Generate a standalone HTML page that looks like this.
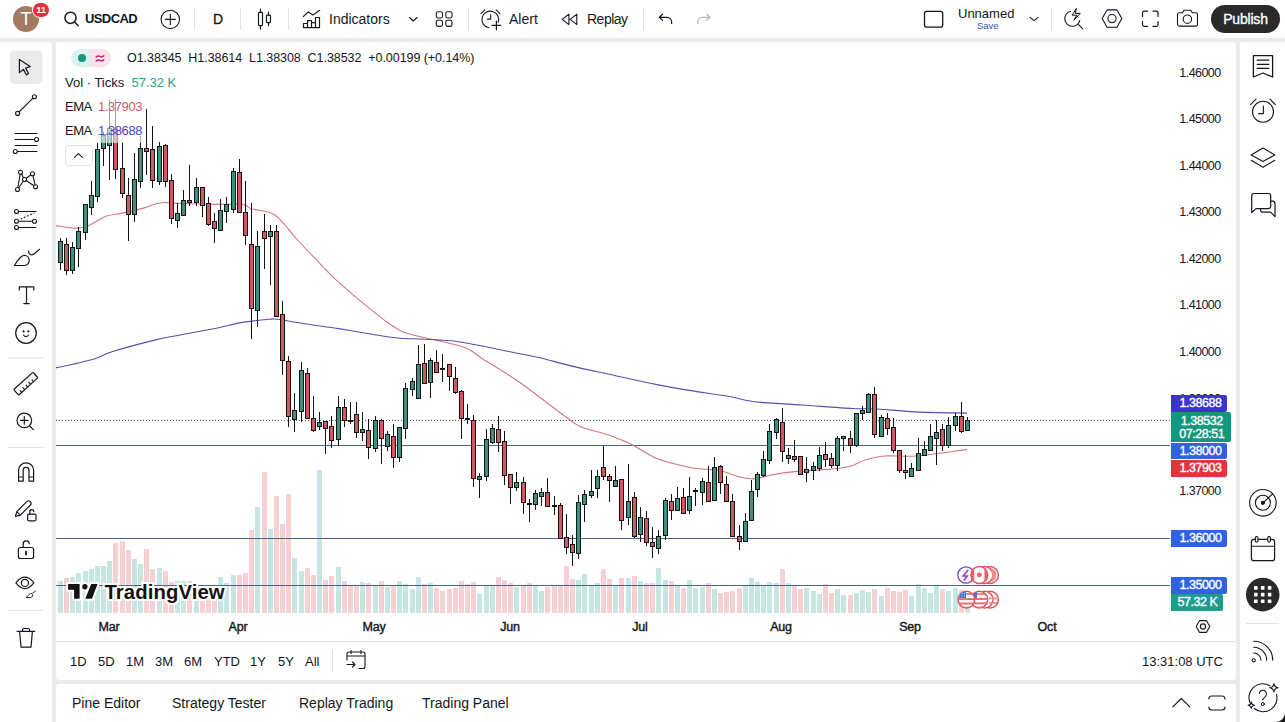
<!DOCTYPE html>
<html><head><meta charset="utf-8">
<style>
*{margin:0;padding:0;box-sizing:border-box}
html,body{width:1285px;height:722px;overflow:hidden}
body{background:#ebebeb;font-family:"Liberation Sans",sans-serif;color:#131722;position:relative}
.panel{position:absolute;background:#fff}
.t{position:absolute;white-space:nowrap;line-height:1}
svg{position:absolute;overflow:visible}
.ic{fill:none;stroke:#131722;stroke-width:1.1;stroke-linecap:round;stroke-linejoin:round}
.sep{position:absolute;background:#e0e0e0}
.pl{position:absolute;left:1171px;width:56px;height:16.4px;border-radius:0 2px 2px 0;color:#fff;font-size:12.5px;line-height:17px;text-align:center;padding-left:3px;-webkit-text-stroke:0.35px #fff;letter-spacing:-0.45px}
.pa{position:absolute;left:1171px;width:58px;text-align:center;font-size:12.5px;line-height:14px;letter-spacing:-0.55px;color:#131722}
.ta{position:absolute;top:620px;font-size:12.5px;line-height:14px;-webkit-text-stroke:0.4px #131722;letter-spacing:-0.2px;transform:translateX(-50%)}
</style></head><body>
<!-- panels -->
<div class="panel" style="left:0;top:0;width:1285px;height:38px"></div>
<div class="panel" style="left:0;top:42px;width:52px;height:680px;border-radius:0 3px 0 0"></div>
<div class="panel" style="left:56px;top:42px;width:1180px;height:638px;border-radius:3px"></div>
<div class="panel" style="left:1240px;top:42px;width:45px;height:680px;border-radius:3px 0 0 0"></div>
<div class="panel" style="left:56px;top:684px;width:1180px;height:40px;border-radius:3px 3px 0 0"></div>

<!-- ===== TOP BAR ===== -->
<div class="t" style="left:13px;top:6px;width:26px;height:26px;border-radius:50%;background:#a27a61"></div>
<div class="t" style="left:13px;top:9px;width:26px;text-align:center;color:#fff;font-size:18px;line-height:20px">T</div>
<div class="t" style="left:32px;top:2px;width:18px;height:16px;border-radius:8px;background:#e2323f;border:1px solid #fff"></div>
<div class="t" style="left:32px;top:5px;width:18px;text-align:center;color:#fff;font-size:9.5px;font-weight:bold;line-height:10px;letter-spacing:-0.3px">11</div>
<div class="t" style="left:85px;top:12px;font-size:13px;font-weight:bold;line-height:14px;letter-spacing:-0.6px">USDCAD</div>
<div class="sep" style="left:194px;top:8px;width:1px;height:22px"></div>
<div class="t" style="left:213px;top:12px;font-size:14px;line-height:14px;-webkit-text-stroke:0.3px #131722;letter-spacing:-0.5px">D</div>
<div class="sep" style="left:240px;top:8px;width:1px;height:22px"></div>
<div class="sep" style="left:288px;top:8px;width:1px;height:22px"></div>
<div class="t" style="left:329px;top:12px;font-size:14px;line-height:14px">Indicators</div>
<div class="sep" style="left:468px;top:8px;width:1px;height:22px"></div>
<div class="t" style="left:509px;top:12px;font-size:14px;line-height:14px">Alert</div>
<div class="t" style="left:587px;top:12px;font-size:14px;line-height:14px;letter-spacing:-0.5px">Replay</div>
<div class="sep" style="left:643px;top:8px;width:1px;height:22px"></div>
<div class="t" style="left:958px;top:7px;font-size:13px;line-height:14px">Unnamed</div>
<div class="t" style="left:977px;top:21px;font-size:9.5px;line-height:10px;color:#3157ad">Save</div>
<div class="sep" style="left:1051px;top:8px;width:1px;height:22px"></div>
<div class="t" style="left:1211px;top:5px;width:69px;height:27.5px;border-radius:14px;background:#2a2a2a;color:#fff;font-size:14px;line-height:27px;padding-top:0.5px;text-align:center;-webkit-text-stroke:0.35px #fff;letter-spacing:-0.2px">Publish</div>

<svg width="1285" height="722" style="left:0;top:0">
<g class="ic">
 <!-- search -->
 <circle cx="70.5" cy="17.8" r="5.6" stroke-width="1.5"/>
 <path d="M74.6 22 L78 25.6" stroke-width="1.5"/>
 <!-- plus circle -->
 <circle cx="170.3" cy="19.4" r="9.2"/>
 <path d="M165.3 19.4 H175.3 M170.3 14.4 V24.4"/>
 <!-- candles icon -->
 <rect x="258.5" y="12.3" width="4" height="13.3" rx="0.8" stroke-width="1.2"/>
 <path d="M260.5 9 V12.3 M260.5 25.6 V28.9" stroke-width="1.2"/>
 <rect x="266.5" y="15.2" width="4" height="7.4" rx="0.8" stroke-width="1.2"/>
 <path d="M268.5 12 V15.2 M268.5 22.6 V25.6" stroke-width="1.2"/>
 <!-- indicators -->
 <path d="M303.2 16.7 L308.2 12 L313 15 L319.7 10.3"/>
 <path d="M303.5 27.7 V23.5 H307.5 V27.7 M307.5 27.7 V20.7 H311.5 V27.7 M311.5 27.7 V22.7 H315.5 V27.7 M315.5 27.7 V17.5 H319.5 V27.7 H303.5" stroke-width="1.2"/>
 <!-- chevron -->
 <path d="M409.5 17.5 L413.3 21 L417 17.5"/>
 <!-- grid -->
 <rect x="436.3" y="11.8" width="6.2" height="6.2" rx="1.8"/>
 <rect x="445.8" y="11.8" width="6.2" height="6.2" rx="1.8"/>
 <rect x="436.3" y="20.2" width="6.2" height="6.2" rx="1.8"/>
 <rect x="445.8" y="20.2" width="6.2" height="6.2" rx="1.8"/>
 <!-- alert -->
 <path d="M498.2 22.4 A8.4 8.4 0 1 0 488.8 27.8"/>
 <path d="M490.7 14.5 V19.1 H487.3"/>
 <path d="M481 13.7 L484.8 9.9 M496.2 9.9 L500 13.7"/>
 <path d="M496.4 21 V29.8 M492 25.4 H500.8" stroke-width="1.2"/>
 <!-- replay -->
 <path d="M568.9 14.2 V24.6 L562.2 19.4 Z M576.8 14.2 V24.6 L570.1 19.4 Z"/>
 <!-- undo/redo -->
 <path d="M662.6 14.2 L659.4 17.3 L662.6 20.4 M659.4 17.3 H667 A4.6 4.6 0 0 1 671.6 21.9 V23.5" stroke-width="1.2"/>
 <path d="M706.7 14.2 L709.9 17.3 L706.7 20.4 M709.9 17.3 H702.3 A4.6 4.6 0 0 0 697.7 21.9 V23.5" stroke="#b4b6bd" stroke-width="1.2"/>
 <!-- square -->
 <rect x="924.5" y="11.3" width="18.2" height="15.8" rx="2.2" stroke-width="1.3"/>
 <path d="M1030 17.3 L1034 20.7 L1038 17.3"/>
 <!-- lightning zoom -->
 <path d="M1079.8 20.5 A7.6 7.6 0 1 1 1070.5 11.3"/>
 <path d="M1078 24.2 L1082.8 28.8"/>
 <path d="M1076.3 8.6 L1072.2 15.2 H1076.8 L1073.8 20.3 L1080.3 13.4 H1075.7 Z" stroke-width="1"/>
 <!-- hexagon -->
 <path d="M1102.2 18.6 L1107 9.9 H1117 L1121.8 18.6 L1117 27.3 H1107 Z"/>
 <circle cx="1112" cy="18.6" r="4.1"/>
 <!-- fullscreen -->
 <path d="M1142.5 16.5 V13 A1.8 1.8 0 0 1 1144.3 11.2 H1147.5 M1153 11.2 H1156.2 A1.8 1.8 0 0 1 1158 13 V16.5 M1158 21.5 V24.6 A1.8 1.8 0 0 1 1156.2 26.4 H1153 M1147.5 26.4 H1144.3 A1.8 1.8 0 0 1 1142.5 24.6 V21.5" stroke-width="1.2"/>
 <!-- camera -->
 <path d="M1177.5 14.5 A1.8 1.8 0 0 1 1179.3 12.7 H1182.5 L1184 10.2 H1190.8 L1192.3 12.7 H1195.7 A1.8 1.8 0 0 1 1197.5 14.5 V24.3 A1.8 1.8 0 0 1 1195.7 26.1 H1179.3 A1.8 1.8 0 0 1 1177.5 24.3 Z"/>
 <circle cx="1187.4" cy="19.2" r="4.2"/>
</g>

<!-- ===== LEFT TOOLBAR ===== -->
<rect x="9.5" y="50.5" width="33" height="33.5" rx="5" fill="#ebebeb"/>
<g class="ic">
 <path d="M19.4 59.6 L30.2 66.6 L25.6 68.1 L28.6 73.6 L26.4 74.9 L23.4 69.4 L19.4 72.6 Z" stroke-width="1.2"/>
 <path d="M19 112 L33 98.2"/>
 <circle cx="17.6" cy="113.4" r="2" fill="#fff"/>
 <circle cx="34.4" cy="96.8" r="2" fill="#fff"/>
 <path d="M15 133.5 H37 M15 139.5 H34.4 M15 145.5 H37 M17.4 151.5 H37"/>
 <circle cx="36.5" cy="139.5" r="2" fill="#fff"/>
 <circle cx="15.3" cy="151.5" r="2" fill="#fff"/>
 <path d="M17.5 189.5 L20.5 172.2 L24.5 179.5 L32.5 173.7 L35.5 186.7 L24.5 179.5 L17.5 189.5"/>
 <circle cx="20.5" cy="172.2" r="2" fill="#fff"/>
 <circle cx="32.5" cy="173.7" r="2" fill="#fff"/>
 <circle cx="24.5" cy="179.5" r="2" fill="#fff"/>
 <circle cx="35.5" cy="186.7" r="2" fill="#fff"/>
 <circle cx="17.5" cy="189.5" r="2" fill="#fff"/>
 <path d="M18.5 211.5 H36 M18.5 221.3 H32.5 M18.5 227.5 H36"/>
 <path d="M21 219 L34 213" stroke-dasharray="1 2.5"/>
 <circle cx="16.5" cy="211.5" r="2" fill="#fff"/>
 <circle cx="16.5" cy="221.3" r="2" fill="#fff"/>
 <circle cx="34.5" cy="221.3" r="2" fill="#fff"/>
 <circle cx="16.5" cy="227.5" r="2" fill="#fff"/>
 <path d="M14.5 265.5 H24.5 A4.8 4.8 0 0 0 29.2 260.2 A4.8 4.8 0 0 0 24.5 255.4 C21 255.4 17.6 260 14.5 265.5 Z" stroke-width="1.2"/>
 <path d="M28.6 251 C28.6 254.5 31.5 256 34 254 L39.5 249.3" stroke-width="1.2"/>
 <path d="M19.3 290 V286.8 H33.8 V290 M26.5 286.8 V303.6 M23.8 303.6 H29.2" stroke-width="1.2"/>
 <circle cx="26" cy="333" r="10.3" stroke-width="1.2"/>
 <circle cx="23.6" cy="331.4" r="0.5" fill="#131722"/>
 <circle cx="28.4" cy="331.4" r="0.5" fill="#131722"/>
 <path d="M23.4 335 Q26 338.3 28.6 335"/>
 <g transform="rotate(-42 25.8 383.7)"><rect x="12.8" y="380" width="26" height="7.4" rx="1" stroke-width="1.2"/><path d="M17 387.4 V385 M21 387.4 V384.5 M25 387.4 V385 M29 387.4 V384.5 M33 387.4 V385"/></g>
 <circle cx="24.3" cy="420.4" r="7.3" stroke-width="1.2"/>
 <path d="M24.3 416.6 V424.2 M20.5 420.4 H28.1 M29.6 425.8 L33.4 429.7" stroke-width="1.2"/>
 <path d="M18.6 481.2 V470.3 A7.5 7.5 0 0 1 33.6 470.3 V481.2 H29 V470.3 A2.9 2.9 0 0 0 23.2 470.3 V481.2 Z M18.6 477 H23.2 M29 477 H33.6" stroke-width="1.2"/>
 <path d="M15.4 516.4 L16.8 511.6 L27 501.4 A2.1 2.1 0 0 1 30 501.4 L30.5 502 A2.1 2.1 0 0 1 30.5 505 L20.3 515.2 Z M16.8 511.6 L20.3 515.2" stroke-width="1.2"/>
 <rect x="27.6" y="514.2" width="8.4" height="6.6" rx="1.2" stroke-width="1.2"/>
 <path d="M29.8 514.2 V511.8 A2 2 0 0 1 33.8 511.6" stroke-width="1.2"/>
 <rect x="18.4" y="547.5" width="15.2" height="11" rx="2" stroke-width="1.2"/>
 <path d="M23.2 547.5 V544 A3 3 0 0 1 29.2 543.6" stroke-width="1.2"/>
 <path d="M26 551.6 V554.6" stroke-width="1.8"/>
 <path d="M15.9 582.9 Q24.9 571.5 33.9 582.9 Q24.9 594.3 15.9 582.9 Z" stroke-width="1.2"/>
 <circle cx="24.9" cy="582.9" r="3.6" stroke-width="1.2"/>
 <path d="M26.5 597.5 H30.5 A2.3 2.3 0 0 0 32 593.5 C30 593 28 595 26.5 597.5 Z M32.8 593 L35.6 591" stroke-width="0.9"/>
 <path d="M17 631.3 H34.7 M22.6 631.3 V629.7 A1.2 1.2 0 0 1 23.8 628.5 H28.3 A1.2 1.2 0 0 1 29.5 629.7 V631.3 M19.5 631.3 L21.1 647.2 H31 L32.4 631.3" stroke-width="1.2"/>
</g>
<rect x="8" y="357.5" width="36" height="1" fill="#e3e3e3"/>
<rect x="8" y="447" width="36" height="1" fill="#e3e3e3"/>
<rect x="8" y="610" width="36" height="1" fill="#e3e3e3"/>

<!-- ===== RIGHT TOOLBAR ===== -->
<g class="ic">
 <path d="M1253.4 55.6 H1272.6 V77 L1263 73 L1253.4 77 Z" stroke-width="1.3"/>
 <path d="M1257.2 60.2 H1268.8 M1257.2 64.3 H1268.8 M1257.2 68.3 H1268.8" stroke-width="1.2"/>
 <circle cx="1263" cy="111.7" r="10.5"/>
 <path d="M1263.4 106 V113.6 H1258.6 M1250.6 104.6 L1256 99.2 M1270 99.2 L1275.4 104.6"/>
 <path d="M1263 148.1 L1274.8 154.9 L1263 161.5 L1251.2 154.9 Z M1251.2 160.3 L1263 167.3 L1274.8 160.3"/>
 <path d="M1251.7 212.5 V196 A2.5 2.5 0 0 1 1254.2 193.5 H1268.2 A2.5 2.5 0 0 1 1270.7 196 V206.1 A2.5 2.5 0 0 1 1268.2 208.6 H1256 Z" stroke-width="1.2"/>
 <path d="M1270.7 201.2 H1272.5 A2.5 2.5 0 0 1 1275 203.7 V216.6 L1270.6 212.2 H1263 A2.5 2.5 0 0 1 1260.5 209.7 V208.6" stroke-width="1.2"/>
 <circle cx="1262.9" cy="502.8" r="13.3"/>
 <circle cx="1262.9" cy="502.8" r="7.5"/>
 <circle cx="1262.9" cy="502.8" r="1.6" fill="#131722"/>
 <path d="M1262.9 502.8 L1272.6 494"/>
 <rect x="1251.4" y="539.4" width="23.2" height="21.3" rx="2.5" stroke-width="1.2"/>
 <path d="M1251.4 546.2 H1274.6"/>
 <rect x="1255.3" y="536.6" width="2.6" height="5.4" rx="1" fill="#fff"/>
 <rect x="1267.8" y="536.6" width="2.6" height="5.4" rx="1" fill="#fff"/>
 <circle cx="1253.7" cy="660.3" r="1.6"/>
 <path d="M1253.7 653 A7.3 7.3 0 0 1 1261 660.3 M1253.7 647.3 A13 13 0 0 1 1266.7 660.3 M1253.7 641.2 A19.1 19.1 0 0 1 1272.8 660.3"/>
 <path d="M1269.9 685.8 A13.7 13.7 0 0 0 1250.4 703.5 M1254.4 708.5 A13.7 13.7 0 0 0 1276.5 694.5" stroke-width="1.1"/>
 <path d="M1273.9 683.6 Q1274.4 687.3 1278.2 687.8 Q1274.4 688.3 1273.9 692 Q1273.4 688.3 1269.6 687.8 Q1273.4 687.3 1273.9 683.6 Z" stroke-width="1.1"/>
 <path d="M1251.3 702.1 Q1251.7 704.9 1254.5 705.3 Q1251.7 705.7 1251.3 708.5 Q1250.9 705.7 1248.1 705.3 Q1250.9 704.9 1251.3 702.1 Z" stroke-width="1.1"/>
 <path d="M1259.3 693.4 A3.6 3.6 0 1 1 1265.8 696 L1262.6 699.6" stroke-width="1.1"/>
 <circle cx="1262.8" cy="704" r="1.5" stroke-width="1"/>
</g>
<circle cx="1262.7" cy="594.6" r="16.8" fill="#2a2a2a"/>
<g fill="#fff">
 <rect x="1254" y="586.1" width="3.6" height="3.6" rx="0.6"/><rect x="1260.9" y="586.1" width="3.6" height="3.6" rx="0.6"/><rect x="1267.8" y="586.1" width="3.6" height="3.6" rx="0.6"/>
 <rect x="1254" y="592.8" width="3.6" height="3.6" rx="0.6"/><rect x="1260.9" y="592.8" width="3.6" height="3.6" rx="0.6"/><rect x="1267.8" y="592.8" width="3.6" height="3.6" rx="0.6"/>
 <rect x="1254" y="599.5" width="3.6" height="3.6" rx="0.6"/><rect x="1260.9" y="599.5" width="3.6" height="3.6" rx="0.6"/><rect x="1267.8" y="599.5" width="3.6" height="3.6" rx="0.6"/>
</g>
<rect x="1246" y="623" width="33" height="1" fill="#e3e3e3"/>
</svg>

<!-- ===== CHART ===== -->
<svg width="1285" height="722" style="left:0;top:0" shape-rendering="crispEdges">
<rect x="58" y="581" width="5" height="32" fill="#c5e6e1"/>
<rect x="64" y="578" width="5" height="35" fill="#f7d0d4"/>
<rect x="70" y="577" width="5" height="36" fill="#c5e6e1"/>
<rect x="76" y="573" width="5" height="40" fill="#c5e6e1"/>
<rect x="83" y="571" width="5" height="42" fill="#c5e6e1"/>
<rect x="89" y="569" width="5" height="44" fill="#c5e6e1"/>
<rect x="95" y="566" width="5" height="47" fill="#c5e6e1"/>
<rect x="101" y="566" width="5" height="47" fill="#c5e6e1"/>
<rect x="107" y="561" width="5" height="52" fill="#c5e6e1"/>
<rect x="113" y="543" width="5" height="70" fill="#f7d0d4"/>
<rect x="120" y="541" width="5" height="72" fill="#f7d0d4"/>
<rect x="126" y="550" width="5" height="63" fill="#f7d0d4"/>
<rect x="132" y="559" width="5" height="54" fill="#c5e6e1"/>
<rect x="138" y="564" width="5" height="49" fill="#c5e6e1"/>
<rect x="144" y="549" width="5" height="64" fill="#f7d0d4"/>
<rect x="150" y="569" width="5" height="44" fill="#f7d0d4"/>
<rect x="157" y="568" width="5" height="45" fill="#c5e6e1"/>
<rect x="163" y="571" width="5" height="42" fill="#f7d0d4"/>
<rect x="169" y="582" width="5" height="31" fill="#f7d0d4"/>
<rect x="175" y="581" width="5" height="32" fill="#c5e6e1"/>
<rect x="181" y="581" width="5" height="32" fill="#c5e6e1"/>
<rect x="187" y="581" width="5" height="32" fill="#f7d0d4"/>
<rect x="194" y="585" width="5" height="28" fill="#c5e6e1"/>
<rect x="200" y="585" width="5" height="28" fill="#f7d0d4"/>
<rect x="206" y="585" width="5" height="28" fill="#f7d0d4"/>
<rect x="212" y="585" width="5" height="28" fill="#f7d0d4"/>
<rect x="218" y="577" width="5" height="36" fill="#c5e6e1"/>
<rect x="224" y="583" width="5" height="30" fill="#c5e6e1"/>
<rect x="231" y="575" width="5" height="38" fill="#c5e6e1"/>
<rect x="237" y="575" width="5" height="38" fill="#f7d0d4"/>
<rect x="243" y="573" width="5" height="40" fill="#f7d0d4"/>
<rect x="249" y="530" width="5" height="83" fill="#f7d0d4"/>
<rect x="255" y="507" width="5" height="106" fill="#c5e6e1"/>
<rect x="262" y="472" width="5" height="141" fill="#f7d0d4"/>
<rect x="268" y="529" width="5" height="84" fill="#c5e6e1"/>
<rect x="274" y="496" width="5" height="117" fill="#f7d0d4"/>
<rect x="280" y="524" width="5" height="89" fill="#f7d0d4"/>
<rect x="286" y="494" width="5" height="119" fill="#f7d0d4"/>
<rect x="292" y="558" width="5" height="55" fill="#c5e6e1"/>
<rect x="299" y="571" width="5" height="42" fill="#c5e6e1"/>
<rect x="305" y="568" width="5" height="45" fill="#f7d0d4"/>
<rect x="311" y="575" width="5" height="38" fill="#f7d0d4"/>
<rect x="317" y="470" width="5" height="143" fill="#c5e6e1"/>
<rect x="323" y="580" width="5" height="33" fill="#f7d0d4"/>
<rect x="329" y="576" width="5" height="37" fill="#f7d0d4"/>
<rect x="336" y="567" width="5" height="46" fill="#c5e6e1"/>
<rect x="342" y="581" width="5" height="32" fill="#f7d0d4"/>
<rect x="348" y="586" width="5" height="27" fill="#f7d0d4"/>
<rect x="354" y="586" width="5" height="27" fill="#f7d0d4"/>
<rect x="360" y="582" width="5" height="31" fill="#c5e6e1"/>
<rect x="366" y="583" width="5" height="30" fill="#f7d0d4"/>
<rect x="373" y="586" width="5" height="27" fill="#c5e6e1"/>
<rect x="379" y="581" width="5" height="32" fill="#f7d0d4"/>
<rect x="385" y="587" width="5" height="26" fill="#c5e6e1"/>
<rect x="391" y="586" width="5" height="27" fill="#f7d0d4"/>
<rect x="397" y="581" width="5" height="32" fill="#c5e6e1"/>
<rect x="403" y="584" width="5" height="29" fill="#c5e6e1"/>
<rect x="410" y="589" width="5" height="24" fill="#c5e6e1"/>
<rect x="416" y="577" width="5" height="36" fill="#c5e6e1"/>
<rect x="422" y="584" width="5" height="29" fill="#f7d0d4"/>
<rect x="428" y="583" width="5" height="30" fill="#c5e6e1"/>
<rect x="434" y="588" width="5" height="25" fill="#f7d0d4"/>
<rect x="440" y="591" width="5" height="22" fill="#f7d0d4"/>
<rect x="447" y="589" width="5" height="24" fill="#f7d0d4"/>
<rect x="453" y="588" width="5" height="25" fill="#f7d0d4"/>
<rect x="459" y="581" width="5" height="32" fill="#f7d0d4"/>
<rect x="465" y="584" width="5" height="29" fill="#f7d0d4"/>
<rect x="471" y="582" width="5" height="31" fill="#f7d0d4"/>
<rect x="477" y="594" width="5" height="19" fill="#c5e6e1"/>
<rect x="484" y="586" width="5" height="27" fill="#c5e6e1"/>
<rect x="490" y="586" width="5" height="27" fill="#c5e6e1"/>
<rect x="496" y="577" width="5" height="36" fill="#f7d0d4"/>
<rect x="502" y="580" width="5" height="33" fill="#f7d0d4"/>
<rect x="508" y="583" width="5" height="30" fill="#f7d0d4"/>
<rect x="514" y="587" width="5" height="26" fill="#c5e6e1"/>
<rect x="521" y="586" width="5" height="27" fill="#f7d0d4"/>
<rect x="527" y="583" width="5" height="30" fill="#f7d0d4"/>
<rect x="533" y="586" width="5" height="27" fill="#c5e6e1"/>
<rect x="539" y="591" width="5" height="22" fill="#c5e6e1"/>
<rect x="545" y="587" width="5" height="26" fill="#f7d0d4"/>
<rect x="552" y="586" width="5" height="27" fill="#f7d0d4"/>
<rect x="558" y="586" width="5" height="27" fill="#f7d0d4"/>
<rect x="564" y="566" width="5" height="47" fill="#f7d0d4"/>
<rect x="570" y="579" width="5" height="34" fill="#f7d0d4"/>
<rect x="576" y="580" width="5" height="33" fill="#c5e6e1"/>
<rect x="582" y="574" width="5" height="39" fill="#c5e6e1"/>
<rect x="589" y="586" width="5" height="27" fill="#c5e6e1"/>
<rect x="595" y="583" width="5" height="30" fill="#c5e6e1"/>
<rect x="601" y="569" width="5" height="44" fill="#f7d0d4"/>
<rect x="607" y="579" width="5" height="34" fill="#f7d0d4"/>
<rect x="613" y="586" width="5" height="27" fill="#c5e6e1"/>
<rect x="619" y="578" width="5" height="35" fill="#f7d0d4"/>
<rect x="626" y="578" width="5" height="35" fill="#c5e6e1"/>
<rect x="632" y="576" width="5" height="37" fill="#f7d0d4"/>
<rect x="638" y="581" width="5" height="32" fill="#c5e6e1"/>
<rect x="644" y="583" width="5" height="30" fill="#f7d0d4"/>
<rect x="650" y="583" width="5" height="30" fill="#f7d0d4"/>
<rect x="656" y="568" width="5" height="45" fill="#c5e6e1"/>
<rect x="663" y="580" width="5" height="33" fill="#c5e6e1"/>
<rect x="669" y="581" width="5" height="32" fill="#f7d0d4"/>
<rect x="675" y="586" width="5" height="27" fill="#c5e6e1"/>
<rect x="681" y="588" width="5" height="25" fill="#f7d0d4"/>
<rect x="687" y="580" width="5" height="33" fill="#c5e6e1"/>
<rect x="693" y="588" width="5" height="25" fill="#c5e6e1"/>
<rect x="700" y="587" width="5" height="26" fill="#c5e6e1"/>
<rect x="706" y="583" width="5" height="30" fill="#f7d0d4"/>
<rect x="712" y="589" width="5" height="24" fill="#c5e6e1"/>
<rect x="718" y="593" width="5" height="20" fill="#f7d0d4"/>
<rect x="724" y="592" width="5" height="21" fill="#f7d0d4"/>
<rect x="730" y="591" width="5" height="22" fill="#f7d0d4"/>
<rect x="737" y="588" width="5" height="25" fill="#f7d0d4"/>
<rect x="743" y="586" width="5" height="27" fill="#c5e6e1"/>
<rect x="749" y="578" width="5" height="35" fill="#c5e6e1"/>
<rect x="755" y="582" width="5" height="31" fill="#c5e6e1"/>
<rect x="761" y="586" width="5" height="27" fill="#c5e6e1"/>
<rect x="767" y="582" width="5" height="31" fill="#c5e6e1"/>
<rect x="774" y="583" width="5" height="30" fill="#c5e6e1"/>
<rect x="780" y="569" width="5" height="44" fill="#f7d0d4"/>
<rect x="786" y="583" width="5" height="30" fill="#c5e6e1"/>
<rect x="792" y="586" width="5" height="27" fill="#f7d0d4"/>
<rect x="798" y="589" width="5" height="24" fill="#f7d0d4"/>
<rect x="804" y="588" width="5" height="25" fill="#c5e6e1"/>
<rect x="811" y="591" width="5" height="22" fill="#c5e6e1"/>
<rect x="817" y="594" width="5" height="19" fill="#c5e6e1"/>
<rect x="823" y="584" width="5" height="29" fill="#f7d0d4"/>
<rect x="829" y="593" width="5" height="20" fill="#f7d0d4"/>
<rect x="835" y="589" width="5" height="24" fill="#c5e6e1"/>
<rect x="841" y="595" width="5" height="18" fill="#c5e6e1"/>
<rect x="848" y="595" width="5" height="18" fill="#f7d0d4"/>
<rect x="854" y="593" width="5" height="20" fill="#c5e6e1"/>
<rect x="860" y="590" width="5" height="23" fill="#c5e6e1"/>
<rect x="866" y="592" width="5" height="21" fill="#c5e6e1"/>
<rect x="872" y="589" width="5" height="24" fill="#f7d0d4"/>
<rect x="879" y="596" width="5" height="17" fill="#c5e6e1"/>
<rect x="885" y="588" width="5" height="25" fill="#f7d0d4"/>
<rect x="891" y="591" width="5" height="22" fill="#f7d0d4"/>
<rect x="897" y="592" width="5" height="21" fill="#f7d0d4"/>
<rect x="903" y="590" width="5" height="23" fill="#f7d0d4"/>
<rect x="909" y="596" width="5" height="17" fill="#c5e6e1"/>
<rect x="916" y="584" width="5" height="29" fill="#c5e6e1"/>
<rect x="922" y="588" width="5" height="25" fill="#c5e6e1"/>
<rect x="928" y="593" width="5" height="20" fill="#c5e6e1"/>
<rect x="934" y="586" width="5" height="27" fill="#c5e6e1"/>
<rect x="940" y="589" width="5" height="24" fill="#f7d0d4"/>
<rect x="946" y="591" width="5" height="22" fill="#c5e6e1"/>
<rect x="953" y="588" width="5" height="25" fill="#c5e6e1"/>
<rect x="959" y="590" width="5" height="23" fill="#f7d0d4"/>
<rect x="965" y="592" width="5" height="21" fill="#c5e6e1"/>
<rect x="56" y="445" width="1114" height="1" fill="#486683"/>
<rect x="56" y="538" width="1114" height="1" fill="#486683"/>
<rect x="56" y="585" width="1114" height="1" fill="#486683"/>
<line x1="56" y1="420.5" x2="1170" y2="420.5" stroke="#3f6b62" stroke-width="1" stroke-dasharray="1 2"/>
<path shape-rendering="geometricPrecision" d="M56.0 225.6 C59.1 226.0 69.5 228.0 74.8 228.1 C80.0 228.2 82.0 228.2 87.2 226.2 C92.5 224.3 100.2 218.4 106.0 216.2 C111.8 214.1 116.0 214.5 122.2 213.1 C128.5 211.7 137.9 209.7 143.5 208.1 C149.1 206.5 152.5 204.7 156.0 203.8 C159.5 202.8 161.6 202.6 164.8 202.5 C167.9 202.4 166.2 202.8 174.8 203.1 C183.3 203.4 204.7 204.2 216.0 204.4 C227.3 204.6 236.6 203.7 242.5 204.4 C248.4 205.1 247.3 207.6 251.2 208.8 C255.2 209.9 262.3 210.5 266.2 211.5 C270.2 212.5 271.9 212.8 275.0 215.0 C278.1 217.2 281.2 220.8 285.0 225.0 C288.8 229.2 290.6 232.5 297.5 240.0 C304.4 247.5 319.6 263.1 326.2 270.0 C332.8 276.9 332.4 276.6 337.4 281.2 C342.4 285.8 350.7 292.8 356.1 297.4 C361.5 302.0 364.6 304.5 369.8 308.6 C375.0 312.8 382.2 318.7 387.2 322.3 C392.2 325.9 395.5 328.3 399.7 330.4 C403.9 332.5 405.9 333.1 412.1 334.8 C418.3 336.5 429.1 338.5 437.1 340.4 C445.1 342.3 454.5 344.4 460.0 346.0 C465.5 347.6 466.2 347.9 470.0 350.0 C473.8 352.1 477.7 355.6 482.5 358.8 C487.3 361.9 492.5 364.8 498.8 368.8 C505.0 372.7 513.1 377.7 520.0 382.5 C526.9 387.3 535.0 393.8 540.0 397.5 C545.0 401.2 545.0 401.2 550.0 405.0 C555.0 408.8 564.8 416.4 570.0 420.0 C575.2 423.6 574.6 424.3 581.2 426.9 C587.9 429.5 601.5 432.6 610.0 435.6 C618.5 438.6 624.6 441.1 632.5 445.0 C640.4 448.9 647.9 455.0 657.5 458.8 C667.1 462.5 681.5 465.7 690.0 467.5 C698.5 469.3 703.3 468.8 708.8 469.4 C714.2 470.0 717.3 470.0 722.5 471.2 C727.7 472.5 734.6 475.8 740.0 477.0 C745.4 478.2 749.8 479.1 755.0 478.8 C760.2 478.4 765.0 476.1 771.2 475.0 C777.5 473.9 783.1 472.8 792.5 471.9 C801.9 471.0 817.9 470.3 827.5 469.4 C837.1 468.5 843.8 467.8 850.0 466.2 C856.2 464.7 859.2 461.7 865.0 460.0 C870.8 458.3 877.1 456.6 885.0 456.0 C892.9 455.4 904.0 456.6 912.5 456.2 C921.0 455.9 926.9 454.9 936.0 453.8 C945.1 452.6 961.8 450.1 967.0 449.4" fill="none" stroke="#d47680" stroke-width="1.1" stroke-linejoin="round"/>
<path shape-rendering="geometricPrecision" d="M56.0 367.9 C62.2 366.4 84.1 361.9 93.4 359.2 C102.7 356.5 101.6 354.9 112.0 351.7 C122.4 348.5 144.3 342.7 155.6 339.9 C166.9 337.1 169.7 337.0 180.0 335.0 C190.3 333.0 207.0 330.1 217.4 328.0 C227.8 325.9 233.6 323.8 242.3 322.4 C251.0 320.9 263.9 319.8 269.7 319.3 C275.5 318.8 271.3 318.6 277.1 319.3 C282.9 320.0 294.0 322.1 304.5 323.7 C315.0 325.3 328.3 327.0 340.0 328.9 C351.7 330.8 364.9 333.2 374.8 334.8 C384.8 336.4 391.4 337.6 399.7 338.3 C408.0 339.0 414.6 338.6 424.6 339.2 C434.7 339.8 444.1 339.6 460.0 342.0 C475.9 344.4 506.7 351.1 520.0 353.8 C533.3 356.4 531.4 355.7 540.0 357.8 C548.6 359.8 559.3 363.1 571.8 366.1 C584.2 369.1 600.7 372.4 614.7 375.5 C628.7 378.6 643.3 382.0 655.8 384.4 C668.2 386.9 677.6 388.5 689.4 390.4 C701.2 392.3 717.4 394.4 726.8 396.0 C736.1 397.6 739.3 399.1 745.5 400.2 C751.7 401.3 754.5 401.8 764.0 402.6 C773.5 403.4 787.8 404.0 802.5 405.0 C817.2 406.0 840.0 407.8 852.5 408.5 C865.0 409.2 867.1 408.4 877.5 409.0 C887.9 409.6 900.1 411.2 915.0 411.9 C929.9 412.6 958.2 412.9 966.9 413.1" fill="none" stroke="#5450ae" stroke-width="1.1" stroke-linejoin="round"/>
<rect x="60" y="238" width="1" height="32" fill="#131313"/>
<rect x="58" y="241" width="5" height="22" fill="#131313"/>
<rect x="59" y="242" width="3" height="20" fill="#3a917d"/>
<rect x="66" y="238" width="1" height="37" fill="#131313"/>
<rect x="64" y="244" width="5" height="27" fill="#131313"/>
<rect x="65" y="245" width="3" height="25" fill="#d05864"/>
<rect x="72" y="242" width="1" height="32" fill="#131313"/>
<rect x="70" y="247" width="5" height="24" fill="#131313"/>
<rect x="71" y="248" width="3" height="22" fill="#3a917d"/>
<rect x="78" y="227" width="1" height="40" fill="#131313"/>
<rect x="76" y="231" width="5" height="18" fill="#131313"/>
<rect x="77" y="232" width="3" height="16" fill="#3a917d"/>
<rect x="85" y="204" width="1" height="36" fill="#131313"/>
<rect x="83" y="204" width="5" height="29" fill="#131313"/>
<rect x="84" y="205" width="3" height="27" fill="#3a917d"/>
<rect x="91" y="181" width="1" height="34" fill="#131313"/>
<rect x="89" y="195" width="5" height="13" fill="#131313"/>
<rect x="90" y="196" width="3" height="11" fill="#3a917d"/>
<rect x="97" y="143" width="1" height="59" fill="#131313"/>
<rect x="95" y="149" width="5" height="48" fill="#131313"/>
<rect x="96" y="150" width="3" height="46" fill="#3a917d"/>
<rect x="103" y="132" width="1" height="34" fill="#131313"/>
<rect x="101" y="135" width="5" height="14" fill="#131313"/>
<rect x="102" y="136" width="3" height="12" fill="#3a917d"/>
<rect x="109" y="100" width="1" height="80" fill="#131313"/>
<rect x="107" y="128" width="5" height="18" fill="#131313"/>
<rect x="108" y="129" width="3" height="16" fill="#3a917d"/>
<rect x="115" y="99" width="1" height="80" fill="#131313"/>
<rect x="113" y="129" width="5" height="41" fill="#131313"/>
<rect x="114" y="130" width="3" height="39" fill="#d05864"/>
<rect x="122" y="142" width="1" height="56" fill="#131313"/>
<rect x="120" y="168" width="5" height="26" fill="#131313"/>
<rect x="121" y="169" width="3" height="24" fill="#d05864"/>
<rect x="128" y="178" width="1" height="63" fill="#131313"/>
<rect x="126" y="195" width="5" height="20" fill="#131313"/>
<rect x="127" y="196" width="3" height="18" fill="#d05864"/>
<rect x="134" y="153" width="1" height="69" fill="#131313"/>
<rect x="132" y="179" width="5" height="36" fill="#131313"/>
<rect x="133" y="180" width="3" height="34" fill="#3a917d"/>
<rect x="140" y="136" width="1" height="52" fill="#131313"/>
<rect x="138" y="148" width="5" height="34" fill="#131313"/>
<rect x="139" y="149" width="3" height="32" fill="#3a917d"/>
<rect x="146" y="109" width="1" height="66" fill="#131313"/>
<rect x="144" y="148" width="5" height="4" fill="#131313"/>
<rect x="145" y="149" width="3" height="2" fill="#d05864"/>
<rect x="152" y="126" width="1" height="62" fill="#131313"/>
<rect x="150" y="149" width="5" height="32" fill="#131313"/>
<rect x="151" y="150" width="3" height="30" fill="#d05864"/>
<rect x="159" y="142" width="1" height="43" fill="#131313"/>
<rect x="157" y="146" width="5" height="36" fill="#131313"/>
<rect x="158" y="147" width="3" height="34" fill="#3a917d"/>
<rect x="165" y="144" width="1" height="43" fill="#131313"/>
<rect x="163" y="145" width="5" height="37" fill="#131313"/>
<rect x="164" y="146" width="3" height="35" fill="#d05864"/>
<rect x="171" y="174" width="1" height="50" fill="#131313"/>
<rect x="169" y="180" width="5" height="39" fill="#131313"/>
<rect x="170" y="181" width="3" height="37" fill="#d05864"/>
<rect x="177" y="203" width="1" height="25" fill="#131313"/>
<rect x="175" y="213" width="5" height="8" fill="#131313"/>
<rect x="176" y="214" width="3" height="6" fill="#3a917d"/>
<rect x="183" y="190" width="1" height="25" fill="#131313"/>
<rect x="181" y="200" width="5" height="16" fill="#131313"/>
<rect x="182" y="201" width="3" height="14" fill="#3a917d"/>
<rect x="189" y="165" width="1" height="41" fill="#131313"/>
<rect x="187" y="200" width="5" height="3" fill="#131313"/>
<rect x="188" y="201" width="3" height="1" fill="#d05864"/>
<rect x="196" y="178" width="1" height="28" fill="#131313"/>
<rect x="194" y="187" width="5" height="16" fill="#131313"/>
<rect x="195" y="188" width="3" height="14" fill="#3a917d"/>
<rect x="202" y="187" width="1" height="30" fill="#131313"/>
<rect x="200" y="187" width="5" height="19" fill="#131313"/>
<rect x="201" y="188" width="3" height="17" fill="#d05864"/>
<rect x="208" y="197" width="1" height="29" fill="#131313"/>
<rect x="206" y="203" width="5" height="22" fill="#131313"/>
<rect x="207" y="204" width="3" height="20" fill="#d05864"/>
<rect x="214" y="213" width="1" height="30" fill="#131313"/>
<rect x="212" y="221" width="5" height="8" fill="#131313"/>
<rect x="213" y="222" width="3" height="6" fill="#d05864"/>
<rect x="220" y="199" width="1" height="31" fill="#131313"/>
<rect x="218" y="210" width="5" height="21" fill="#131313"/>
<rect x="219" y="211" width="3" height="19" fill="#3a917d"/>
<rect x="226" y="197" width="1" height="26" fill="#131313"/>
<rect x="224" y="204" width="5" height="8" fill="#131313"/>
<rect x="225" y="205" width="3" height="6" fill="#3a917d"/>
<rect x="233" y="168" width="1" height="45" fill="#131313"/>
<rect x="231" y="171" width="5" height="39" fill="#131313"/>
<rect x="232" y="172" width="3" height="37" fill="#3a917d"/>
<rect x="239" y="159" width="1" height="53" fill="#131313"/>
<rect x="237" y="172" width="5" height="41" fill="#131313"/>
<rect x="238" y="173" width="3" height="39" fill="#d05864"/>
<rect x="245" y="181" width="1" height="64" fill="#131313"/>
<rect x="243" y="212" width="5" height="24" fill="#131313"/>
<rect x="244" y="213" width="3" height="22" fill="#d05864"/>
<rect x="251" y="203" width="1" height="136" fill="#131313"/>
<rect x="249" y="244" width="5" height="65" fill="#131313"/>
<rect x="250" y="245" width="3" height="63" fill="#d05864"/>
<rect x="257" y="231" width="1" height="96" fill="#131313"/>
<rect x="255" y="246" width="5" height="65" fill="#131313"/>
<rect x="256" y="247" width="3" height="63" fill="#3a917d"/>
<rect x="264" y="214" width="1" height="55" fill="#131313"/>
<rect x="262" y="231" width="5" height="8" fill="#131313"/>
<rect x="263" y="232" width="3" height="6" fill="#d05864"/>
<rect x="270" y="225" width="1" height="60" fill="#131313"/>
<rect x="268" y="231" width="5" height="6" fill="#131313"/>
<rect x="269" y="232" width="3" height="4" fill="#3a917d"/>
<rect x="276" y="225" width="1" height="92" fill="#131313"/>
<rect x="274" y="231" width="5" height="86" fill="#131313"/>
<rect x="275" y="232" width="3" height="84" fill="#d05864"/>
<rect x="282" y="301" width="1" height="74" fill="#131313"/>
<rect x="280" y="314" width="5" height="47" fill="#131313"/>
<rect x="281" y="315" width="3" height="45" fill="#d05864"/>
<rect x="288" y="356" width="1" height="71" fill="#131313"/>
<rect x="286" y="361" width="5" height="56" fill="#131313"/>
<rect x="287" y="362" width="3" height="54" fill="#d05864"/>
<rect x="294" y="393" width="1" height="39" fill="#131313"/>
<rect x="292" y="410" width="5" height="10" fill="#131313"/>
<rect x="293" y="411" width="3" height="8" fill="#3a917d"/>
<rect x="301" y="362" width="1" height="60" fill="#131313"/>
<rect x="299" y="370" width="5" height="42" fill="#131313"/>
<rect x="300" y="371" width="3" height="40" fill="#3a917d"/>
<rect x="307" y="368" width="1" height="50" fill="#131313"/>
<rect x="305" y="373" width="5" height="46" fill="#131313"/>
<rect x="306" y="374" width="3" height="44" fill="#d05864"/>
<rect x="313" y="396" width="1" height="36" fill="#131313"/>
<rect x="311" y="418" width="5" height="13" fill="#131313"/>
<rect x="312" y="419" width="3" height="11" fill="#d05864"/>
<rect x="319" y="412" width="1" height="18" fill="#131313"/>
<rect x="317" y="422" width="5" height="5" fill="#131313"/>
<rect x="318" y="423" width="3" height="3" fill="#3a917d"/>
<rect x="325" y="421" width="1" height="33" fill="#131313"/>
<rect x="323" y="421" width="5" height="8" fill="#131313"/>
<rect x="324" y="422" width="3" height="6" fill="#d05864"/>
<rect x="331" y="416" width="1" height="32" fill="#131313"/>
<rect x="329" y="426" width="5" height="15" fill="#131313"/>
<rect x="330" y="427" width="3" height="13" fill="#d05864"/>
<rect x="338" y="396" width="1" height="50" fill="#131313"/>
<rect x="336" y="407" width="5" height="33" fill="#131313"/>
<rect x="337" y="408" width="3" height="31" fill="#3a917d"/>
<rect x="344" y="399" width="1" height="28" fill="#131313"/>
<rect x="342" y="407" width="5" height="14" fill="#131313"/>
<rect x="343" y="408" width="3" height="12" fill="#d05864"/>
<rect x="350" y="402" width="1" height="22" fill="#131313"/>
<rect x="348" y="420" width="5" height="2" fill="#131313"/>
<rect x="356" y="402" width="1" height="36" fill="#131313"/>
<rect x="354" y="414" width="5" height="19" fill="#131313"/>
<rect x="355" y="415" width="3" height="17" fill="#d05864"/>
<rect x="362" y="412" width="1" height="29" fill="#131313"/>
<rect x="360" y="429" width="5" height="4" fill="#131313"/>
<rect x="361" y="430" width="3" height="2" fill="#3a917d"/>
<rect x="368" y="419" width="1" height="40" fill="#131313"/>
<rect x="366" y="430" width="5" height="18" fill="#131313"/>
<rect x="367" y="431" width="3" height="16" fill="#d05864"/>
<rect x="375" y="416" width="1" height="36" fill="#131313"/>
<rect x="373" y="420" width="5" height="29" fill="#131313"/>
<rect x="374" y="421" width="3" height="27" fill="#3a917d"/>
<rect x="381" y="419" width="1" height="45" fill="#131313"/>
<rect x="379" y="420" width="5" height="19" fill="#131313"/>
<rect x="380" y="421" width="3" height="17" fill="#d05864"/>
<rect x="387" y="431" width="1" height="20" fill="#131313"/>
<rect x="385" y="434" width="5" height="13" fill="#131313"/>
<rect x="386" y="435" width="3" height="11" fill="#3a917d"/>
<rect x="393" y="424" width="1" height="44" fill="#131313"/>
<rect x="391" y="436" width="5" height="22" fill="#131313"/>
<rect x="392" y="437" width="3" height="20" fill="#d05864"/>
<rect x="399" y="427" width="1" height="35" fill="#131313"/>
<rect x="397" y="427" width="5" height="31" fill="#131313"/>
<rect x="398" y="428" width="3" height="29" fill="#3a917d"/>
<rect x="405" y="383" width="1" height="56" fill="#131313"/>
<rect x="403" y="388" width="5" height="41" fill="#131313"/>
<rect x="404" y="389" width="3" height="39" fill="#3a917d"/>
<rect x="412" y="378" width="1" height="18" fill="#131313"/>
<rect x="410" y="381" width="5" height="9" fill="#131313"/>
<rect x="411" y="382" width="3" height="7" fill="#3a917d"/>
<rect x="418" y="345" width="1" height="53" fill="#131313"/>
<rect x="416" y="364" width="5" height="35" fill="#131313"/>
<rect x="417" y="365" width="3" height="33" fill="#3a917d"/>
<rect x="424" y="344" width="1" height="40" fill="#131313"/>
<rect x="422" y="363" width="5" height="21" fill="#131313"/>
<rect x="423" y="364" width="3" height="19" fill="#d05864"/>
<rect x="430" y="358" width="1" height="40" fill="#131313"/>
<rect x="428" y="360" width="5" height="23" fill="#131313"/>
<rect x="429" y="361" width="3" height="21" fill="#3a917d"/>
<rect x="436" y="350" width="1" height="23" fill="#131313"/>
<rect x="434" y="362" width="5" height="11" fill="#131313"/>
<rect x="435" y="363" width="3" height="9" fill="#d05864"/>
<rect x="442" y="354" width="1" height="28" fill="#131313"/>
<rect x="440" y="368" width="5" height="2" fill="#131313"/>
<rect x="449" y="364" width="1" height="27" fill="#131313"/>
<rect x="447" y="364" width="5" height="13" fill="#131313"/>
<rect x="448" y="365" width="3" height="11" fill="#d05864"/>
<rect x="455" y="367" width="1" height="27" fill="#131313"/>
<rect x="453" y="378" width="5" height="15" fill="#131313"/>
<rect x="454" y="379" width="3" height="13" fill="#d05864"/>
<rect x="461" y="390" width="1" height="49" fill="#131313"/>
<rect x="459" y="391" width="5" height="28" fill="#131313"/>
<rect x="460" y="392" width="3" height="26" fill="#d05864"/>
<rect x="467" y="404" width="1" height="20" fill="#131313"/>
<rect x="465" y="418" width="5" height="2" fill="#131313"/>
<rect x="473" y="415" width="1" height="72" fill="#131313"/>
<rect x="471" y="420" width="5" height="59" fill="#131313"/>
<rect x="472" y="421" width="3" height="57" fill="#d05864"/>
<rect x="479" y="473" width="1" height="25" fill="#131313"/>
<rect x="477" y="476" width="5" height="4" fill="#131313"/>
<rect x="478" y="477" width="3" height="2" fill="#3a917d"/>
<rect x="486" y="429" width="1" height="52" fill="#131313"/>
<rect x="484" y="439" width="5" height="38" fill="#131313"/>
<rect x="485" y="440" width="3" height="36" fill="#3a917d"/>
<rect x="492" y="424" width="1" height="20" fill="#131313"/>
<rect x="490" y="428" width="5" height="15" fill="#131313"/>
<rect x="491" y="429" width="3" height="13" fill="#3a917d"/>
<rect x="498" y="416" width="1" height="36" fill="#131313"/>
<rect x="496" y="429" width="5" height="14" fill="#131313"/>
<rect x="497" y="430" width="3" height="12" fill="#d05864"/>
<rect x="504" y="431" width="1" height="54" fill="#131313"/>
<rect x="502" y="441" width="5" height="35" fill="#131313"/>
<rect x="503" y="442" width="3" height="33" fill="#d05864"/>
<rect x="510" y="474" width="1" height="30" fill="#131313"/>
<rect x="508" y="474" width="5" height="14" fill="#131313"/>
<rect x="509" y="475" width="3" height="12" fill="#d05864"/>
<rect x="516" y="472" width="1" height="19" fill="#131313"/>
<rect x="514" y="482" width="5" height="6" fill="#131313"/>
<rect x="515" y="483" width="3" height="4" fill="#3a917d"/>
<rect x="523" y="477" width="1" height="37" fill="#131313"/>
<rect x="521" y="482" width="5" height="21" fill="#131313"/>
<rect x="522" y="483" width="3" height="19" fill="#d05864"/>
<rect x="529" y="499" width="1" height="23" fill="#131313"/>
<rect x="527" y="503" width="5" height="2" fill="#131313"/>
<rect x="535" y="490" width="1" height="20" fill="#131313"/>
<rect x="533" y="493" width="5" height="12" fill="#131313"/>
<rect x="534" y="494" width="3" height="10" fill="#3a917d"/>
<rect x="541" y="488" width="1" height="18" fill="#131313"/>
<rect x="539" y="492" width="5" height="5" fill="#131313"/>
<rect x="540" y="493" width="3" height="3" fill="#3a917d"/>
<rect x="547" y="478" width="1" height="28" fill="#131313"/>
<rect x="545" y="492" width="5" height="15" fill="#131313"/>
<rect x="546" y="493" width="3" height="13" fill="#d05864"/>
<rect x="554" y="496" width="1" height="19" fill="#131313"/>
<rect x="552" y="505" width="5" height="2" fill="#131313"/>
<rect x="560" y="503" width="1" height="36" fill="#131313"/>
<rect x="558" y="505" width="5" height="34" fill="#131313"/>
<rect x="559" y="506" width="3" height="32" fill="#d05864"/>
<rect x="566" y="514" width="1" height="40" fill="#131313"/>
<rect x="564" y="537" width="5" height="11" fill="#131313"/>
<rect x="565" y="538" width="3" height="9" fill="#d05864"/>
<rect x="572" y="535" width="1" height="31" fill="#131313"/>
<rect x="570" y="544" width="5" height="9" fill="#131313"/>
<rect x="571" y="545" width="3" height="7" fill="#d05864"/>
<rect x="578" y="495" width="1" height="64" fill="#131313"/>
<rect x="576" y="502" width="5" height="52" fill="#131313"/>
<rect x="577" y="503" width="3" height="50" fill="#3a917d"/>
<rect x="584" y="490" width="1" height="32" fill="#131313"/>
<rect x="582" y="494" width="5" height="11" fill="#131313"/>
<rect x="583" y="495" width="3" height="9" fill="#3a917d"/>
<rect x="591" y="470" width="1" height="28" fill="#131313"/>
<rect x="589" y="491" width="5" height="5" fill="#131313"/>
<rect x="590" y="492" width="3" height="3" fill="#3a917d"/>
<rect x="597" y="470" width="1" height="28" fill="#131313"/>
<rect x="595" y="476" width="5" height="13" fill="#131313"/>
<rect x="596" y="477" width="3" height="11" fill="#3a917d"/>
<rect x="603" y="446" width="1" height="34" fill="#131313"/>
<rect x="601" y="467" width="5" height="10" fill="#131313"/>
<rect x="602" y="468" width="3" height="8" fill="#d05864"/>
<rect x="609" y="474" width="1" height="28" fill="#131313"/>
<rect x="607" y="476" width="5" height="5" fill="#131313"/>
<rect x="608" y="477" width="3" height="3" fill="#d05864"/>
<rect x="615" y="466" width="1" height="20" fill="#131313"/>
<rect x="613" y="480" width="5" height="7" fill="#131313"/>
<rect x="614" y="481" width="3" height="5" fill="#3a917d"/>
<rect x="621" y="479" width="1" height="51" fill="#131313"/>
<rect x="619" y="479" width="5" height="42" fill="#131313"/>
<rect x="620" y="480" width="3" height="40" fill="#d05864"/>
<rect x="628" y="464" width="1" height="61" fill="#131313"/>
<rect x="626" y="501" width="5" height="17" fill="#131313"/>
<rect x="627" y="502" width="3" height="15" fill="#3a917d"/>
<rect x="634" y="492" width="1" height="46" fill="#131313"/>
<rect x="632" y="497" width="5" height="40" fill="#131313"/>
<rect x="633" y="498" width="3" height="38" fill="#d05864"/>
<rect x="640" y="507" width="1" height="35" fill="#131313"/>
<rect x="638" y="517" width="5" height="18" fill="#131313"/>
<rect x="639" y="518" width="3" height="16" fill="#3a917d"/>
<rect x="646" y="511" width="1" height="35" fill="#131313"/>
<rect x="644" y="518" width="5" height="25" fill="#131313"/>
<rect x="645" y="519" width="3" height="23" fill="#d05864"/>
<rect x="652" y="527" width="1" height="31" fill="#131313"/>
<rect x="650" y="542" width="5" height="5" fill="#131313"/>
<rect x="651" y="543" width="3" height="3" fill="#d05864"/>
<rect x="658" y="530" width="1" height="24" fill="#131313"/>
<rect x="656" y="536" width="5" height="13" fill="#131313"/>
<rect x="657" y="537" width="3" height="11" fill="#3a917d"/>
<rect x="665" y="498" width="1" height="42" fill="#131313"/>
<rect x="663" y="500" width="5" height="36" fill="#131313"/>
<rect x="664" y="501" width="3" height="34" fill="#3a917d"/>
<rect x="671" y="494" width="1" height="26" fill="#131313"/>
<rect x="669" y="501" width="5" height="10" fill="#131313"/>
<rect x="670" y="502" width="3" height="8" fill="#d05864"/>
<rect x="677" y="487" width="1" height="23" fill="#131313"/>
<rect x="675" y="498" width="5" height="13" fill="#131313"/>
<rect x="676" y="499" width="3" height="11" fill="#3a917d"/>
<rect x="683" y="488" width="1" height="25" fill="#131313"/>
<rect x="681" y="497" width="5" height="17" fill="#131313"/>
<rect x="682" y="498" width="3" height="15" fill="#d05864"/>
<rect x="689" y="477" width="1" height="37" fill="#131313"/>
<rect x="687" y="496" width="5" height="15" fill="#131313"/>
<rect x="688" y="497" width="3" height="13" fill="#3a917d"/>
<rect x="695" y="488" width="1" height="18" fill="#131313"/>
<rect x="693" y="490" width="5" height="2" fill="#131313"/>
<rect x="702" y="478" width="1" height="27" fill="#131313"/>
<rect x="700" y="481" width="5" height="12" fill="#131313"/>
<rect x="701" y="482" width="3" height="10" fill="#3a917d"/>
<rect x="708" y="466" width="1" height="35" fill="#131313"/>
<rect x="706" y="482" width="5" height="20" fill="#131313"/>
<rect x="707" y="483" width="3" height="18" fill="#d05864"/>
<rect x="714" y="457" width="1" height="43" fill="#131313"/>
<rect x="712" y="467" width="5" height="34" fill="#131313"/>
<rect x="713" y="468" width="3" height="32" fill="#3a917d"/>
<rect x="720" y="465" width="1" height="29" fill="#131313"/>
<rect x="718" y="466" width="5" height="17" fill="#131313"/>
<rect x="719" y="467" width="3" height="15" fill="#d05864"/>
<rect x="726" y="476" width="1" height="26" fill="#131313"/>
<rect x="724" y="484" width="5" height="18" fill="#131313"/>
<rect x="725" y="485" width="3" height="16" fill="#d05864"/>
<rect x="732" y="494" width="1" height="42" fill="#131313"/>
<rect x="730" y="501" width="5" height="36" fill="#131313"/>
<rect x="731" y="502" width="3" height="34" fill="#d05864"/>
<rect x="739" y="525" width="1" height="25" fill="#131313"/>
<rect x="737" y="536" width="5" height="6" fill="#131313"/>
<rect x="738" y="537" width="3" height="4" fill="#d05864"/>
<rect x="745" y="513" width="1" height="28" fill="#131313"/>
<rect x="743" y="521" width="5" height="21" fill="#131313"/>
<rect x="744" y="522" width="3" height="19" fill="#3a917d"/>
<rect x="751" y="480" width="1" height="40" fill="#131313"/>
<rect x="749" y="491" width="5" height="30" fill="#131313"/>
<rect x="750" y="492" width="3" height="28" fill="#3a917d"/>
<rect x="757" y="472" width="1" height="25" fill="#131313"/>
<rect x="755" y="474" width="5" height="16" fill="#131313"/>
<rect x="756" y="475" width="3" height="14" fill="#3a917d"/>
<rect x="763" y="451" width="1" height="26" fill="#131313"/>
<rect x="761" y="459" width="5" height="17" fill="#131313"/>
<rect x="762" y="460" width="3" height="15" fill="#3a917d"/>
<rect x="769" y="424" width="1" height="40" fill="#131313"/>
<rect x="767" y="431" width="5" height="30" fill="#131313"/>
<rect x="768" y="432" width="3" height="28" fill="#3a917d"/>
<rect x="776" y="418" width="1" height="21" fill="#131313"/>
<rect x="774" y="419" width="5" height="14" fill="#131313"/>
<rect x="775" y="420" width="3" height="12" fill="#3a917d"/>
<rect x="782" y="408" width="1" height="54" fill="#131313"/>
<rect x="780" y="422" width="5" height="30" fill="#131313"/>
<rect x="781" y="423" width="3" height="28" fill="#d05864"/>
<rect x="788" y="448" width="1" height="16" fill="#131313"/>
<rect x="786" y="455" width="5" height="4" fill="#131313"/>
<rect x="787" y="456" width="3" height="2" fill="#3a917d"/>
<rect x="794" y="440" width="1" height="22" fill="#131313"/>
<rect x="792" y="456" width="5" height="4" fill="#131313"/>
<rect x="793" y="457" width="3" height="2" fill="#d05864"/>
<rect x="800" y="456" width="1" height="19" fill="#131313"/>
<rect x="798" y="456" width="5" height="19" fill="#131313"/>
<rect x="799" y="457" width="3" height="17" fill="#d05864"/>
<rect x="806" y="457" width="1" height="25" fill="#131313"/>
<rect x="804" y="469" width="5" height="4" fill="#131313"/>
<rect x="805" y="470" width="3" height="2" fill="#3a917d"/>
<rect x="813" y="462" width="1" height="18" fill="#131313"/>
<rect x="811" y="466" width="5" height="5" fill="#131313"/>
<rect x="812" y="467" width="3" height="3" fill="#3a917d"/>
<rect x="819" y="447" width="1" height="24" fill="#131313"/>
<rect x="817" y="455" width="5" height="14" fill="#131313"/>
<rect x="818" y="456" width="3" height="12" fill="#3a917d"/>
<rect x="825" y="442" width="1" height="25" fill="#131313"/>
<rect x="823" y="454" width="5" height="6" fill="#131313"/>
<rect x="824" y="455" width="3" height="4" fill="#d05864"/>
<rect x="831" y="453" width="1" height="15" fill="#131313"/>
<rect x="829" y="458" width="5" height="8" fill="#131313"/>
<rect x="830" y="459" width="3" height="6" fill="#d05864"/>
<rect x="837" y="436" width="1" height="35" fill="#131313"/>
<rect x="835" y="438" width="5" height="28" fill="#131313"/>
<rect x="836" y="439" width="3" height="26" fill="#3a917d"/>
<rect x="843" y="436" width="1" height="15" fill="#131313"/>
<rect x="841" y="436" width="5" height="3" fill="#131313"/>
<rect x="842" y="437" width="3" height="1" fill="#3a917d"/>
<rect x="850" y="431" width="1" height="22" fill="#131313"/>
<rect x="848" y="438" width="5" height="8" fill="#131313"/>
<rect x="849" y="439" width="3" height="6" fill="#d05864"/>
<rect x="856" y="413" width="1" height="34" fill="#131313"/>
<rect x="854" y="413" width="5" height="33" fill="#131313"/>
<rect x="855" y="414" width="3" height="31" fill="#3a917d"/>
<rect x="862" y="406" width="1" height="14" fill="#131313"/>
<rect x="860" y="410" width="5" height="4" fill="#131313"/>
<rect x="861" y="411" width="3" height="2" fill="#3a917d"/>
<rect x="868" y="393" width="1" height="19" fill="#131313"/>
<rect x="866" y="394" width="5" height="19" fill="#131313"/>
<rect x="867" y="395" width="3" height="17" fill="#3a917d"/>
<rect x="874" y="387" width="1" height="51" fill="#131313"/>
<rect x="872" y="394" width="5" height="41" fill="#131313"/>
<rect x="873" y="395" width="3" height="39" fill="#d05864"/>
<rect x="881" y="415" width="1" height="22" fill="#131313"/>
<rect x="879" y="417" width="5" height="20" fill="#131313"/>
<rect x="880" y="418" width="3" height="18" fill="#3a917d"/>
<rect x="887" y="413" width="1" height="22" fill="#131313"/>
<rect x="885" y="418" width="5" height="11" fill="#131313"/>
<rect x="886" y="419" width="3" height="9" fill="#d05864"/>
<rect x="893" y="418" width="1" height="35" fill="#131313"/>
<rect x="891" y="427" width="5" height="24" fill="#131313"/>
<rect x="892" y="428" width="3" height="22" fill="#d05864"/>
<rect x="899" y="450" width="1" height="23" fill="#131313"/>
<rect x="897" y="450" width="5" height="21" fill="#131313"/>
<rect x="898" y="451" width="3" height="19" fill="#d05864"/>
<rect x="905" y="455" width="1" height="24" fill="#131313"/>
<rect x="903" y="470" width="5" height="3" fill="#131313"/>
<rect x="904" y="471" width="3" height="1" fill="#d05864"/>
<rect x="911" y="463" width="1" height="13" fill="#131313"/>
<rect x="909" y="468" width="5" height="9" fill="#131313"/>
<rect x="910" y="469" width="3" height="7" fill="#3a917d"/>
<rect x="918" y="438" width="1" height="32" fill="#131313"/>
<rect x="916" y="453" width="5" height="18" fill="#131313"/>
<rect x="917" y="454" width="3" height="16" fill="#3a917d"/>
<rect x="924" y="441" width="1" height="14" fill="#131313"/>
<rect x="922" y="449" width="5" height="7" fill="#131313"/>
<rect x="923" y="450" width="3" height="5" fill="#3a917d"/>
<rect x="930" y="424" width="1" height="26" fill="#131313"/>
<rect x="928" y="436" width="5" height="15" fill="#131313"/>
<rect x="929" y="437" width="3" height="13" fill="#3a917d"/>
<rect x="936" y="420" width="1" height="45" fill="#131313"/>
<rect x="934" y="432" width="5" height="7" fill="#131313"/>
<rect x="935" y="433" width="3" height="5" fill="#3a917d"/>
<rect x="942" y="424" width="1" height="27" fill="#131313"/>
<rect x="940" y="429" width="5" height="17" fill="#131313"/>
<rect x="941" y="430" width="3" height="15" fill="#d05864"/>
<rect x="948" y="417" width="1" height="31" fill="#131313"/>
<rect x="946" y="425" width="5" height="21" fill="#131313"/>
<rect x="947" y="426" width="3" height="19" fill="#3a917d"/>
<rect x="955" y="413" width="1" height="18" fill="#131313"/>
<rect x="953" y="416" width="5" height="10" fill="#131313"/>
<rect x="954" y="417" width="3" height="8" fill="#3a917d"/>
<rect x="961" y="402" width="1" height="31" fill="#131313"/>
<rect x="959" y="416" width="5" height="16" fill="#131313"/>
<rect x="960" y="417" width="3" height="14" fill="#d05864"/>
<rect x="967" y="417" width="1" height="14" fill="#131313"/>
<rect x="965" y="420" width="5" height="11" fill="#131313"/>
<rect x="966" y="421" width="3" height="9" fill="#3a917d"/>
</svg>

<!-- legend -->
<div class="t" style="left:71px;top:49px;width:20px;height:18px;border-radius:9px 0 0 9px;background:#dcf1ee"></div>
<div class="t" style="left:91px;top:49px;width:20px;height:18px;border-radius:0 9px 9px 0;background:#fbe0ea"></div>
<div class="t" style="left:78px;top:54px;width:8px;height:8px;border-radius:50%;background:#0f9a7e"></div>
<svg width="1285" height="722" style="left:0;top:0"><path d="M96.2 57 Q97.6 55.2 100 56.4 Q102.4 57.6 103.8 55.8 M96.2 61 Q97.6 59.2 100 60.4 Q102.4 61.6 103.8 59.8" fill="none" stroke="#a8336e" stroke-width="1.5" stroke-linecap="round"/></svg>
<div class="t" style="left:127px;top:52px;font-size:12.5px;line-height:13px;letter-spacing:-0.05px">O1.38345&nbsp; H1.38614&nbsp; L1.38308&nbsp; C1.38532&nbsp; +0.00199 (+0.14%)</div>
<div class="t" style="left:65px;top:76px;font-size:13px;line-height:13px">Vol · Ticks&nbsp; <span style="color:#26a08c">57.32 K</span></div>
<div class="t" style="left:63px;top:97px;width:81px;height:45.5px;background:rgba(255,255,255,0.6)"></div>
<div class="t" style="left:65px;top:100px;font-size:13px;line-height:13px;letter-spacing:-0.5px">EMA&nbsp; <span style="color:#cf5a66;letter-spacing:-0.4px">1.37903</span></div>
<div class="t" style="left:65px;top:124px;font-size:13px;line-height:13px;letter-spacing:-0.5px">EMA&nbsp; <span style="color:#4a44c8;letter-spacing:-0.4px">1.38688</span></div>
<div class="t" style="left:64.5px;top:145.3px;width:28px;height:20.5px;border:1px solid #e0e3eb;border-radius:4px;background:#fff"></div>
<svg width="1285" height="722" style="left:0;top:0"><path d="M74.4 157.4 L78.4 153.7 L82.4 157.4" class="ic" stroke-width="1.5"/></svg>

<!-- price axis -->
<div class="pa" style="top:66px">1.46000</div>
<div class="pa" style="top:112px">1.45000</div>
<div class="pa" style="top:159px">1.44000</div>
<div class="pa" style="top:205px">1.43000</div>
<div class="pa" style="top:252px">1.42000</div>
<div class="pa" style="top:298px">1.41000</div>
<div class="pa" style="top:345px">1.40000</div>
<div class="pa" style="top:392px">1.39000</div>
<div class="pa" style="top:484px">1.37000</div>
<div class="pl" style="top:395.2px;background:#3a32d2">1.38688</div>
<div class="pl" style="top:412.2px;height:30.3px;width:59.5px;background:#10987c;line-height:13.7px;padding-top:2.6px;padding-left:2px">1.38532<br>07:28:51</div>
<div class="pl" style="top:443px;background:#2f62e6">1.38000</div>
<div class="pl" style="top:460.4px;background:#e2333f">1.37903</div>
<div class="pl" style="top:530.3px;background:#2f62e6">1.36000</div>
<div class="pl" style="top:577.2px;background:#2f62e6">1.35000</div>
<div class="pl" style="top:593.6px;height:17px;width:52px;background:#1c9e8a;padding-left:1px">57.32 K</div>

<!-- watermark -->
<svg width="1285" height="722" style="left:0;top:0">
 <g stroke="#fff" stroke-width="4" stroke-linejoin="round" fill="#131313" paint-order="stroke">
  <path d="M68.1 584.1 H79.6 V598.7 H74.1 V589.7 H68.1 Z"/>
  <circle cx="84.9" cy="586.8" r="2.7"/>
  <path d="M91.2 584.1 H97.6 L91.9 598.7 H85.2 Z"/>
 </g>
 <text x="104.5" y="598.8" font-family="Liberation Sans" font-weight="bold" font-size="20.3" fill="#131313" stroke="#fff" stroke-width="4" paint-order="stroke" letter-spacing="0.1">TradingView</text>
</svg>

<!-- time axis -->
<div class="ta" style="left:109px">Mar</div>
<div class="ta" style="left:238px">Apr</div>
<div class="ta" style="left:374px">May</div>
<div class="ta" style="left:510px">Jun</div>
<div class="ta" style="left:640px">Jul</div>
<div class="ta" style="left:781px">Aug</div>
<div class="ta" style="left:910px">Sep</div>
<div class="ta" style="left:1047px">Oct</div>
<svg width="1285" height="722" style="left:0;top:0"><g class="ic"><path d="M1196.2 626.5 L1199.6 620.6 H1206.4 L1209.8 626.5 L1206.4 632.4 H1199.6 Z"/><circle cx="1203" cy="626.5" r="2.6"/></g></svg>
<div class="sep" style="left:56px;top:641px;width:1180px;height:1px;background:#e0e3eb"></div>

<!-- range bar -->
<div class="t" style="left:70px;top:655px;font-size:13px;line-height:13px;word-spacing:0">1D</div>
<div class="t" style="left:98px;top:655px;font-size:13px;line-height:13px">5D</div>
<div class="t" style="left:126px;top:655px;font-size:13px;line-height:13px">1M</div>
<div class="t" style="left:155px;top:655px;font-size:13px;line-height:13px">3M</div>
<div class="t" style="left:184px;top:655px;font-size:13px;line-height:13px">6M</div>
<div class="t" style="left:214px;top:655px;font-size:13px;line-height:13px">YTD</div>
<div class="t" style="left:250px;top:655px;font-size:13px;line-height:13px">1Y</div>
<div class="t" style="left:278px;top:655px;font-size:13px;line-height:13px">5Y</div>
<div class="t" style="left:305px;top:655px;font-size:13px;line-height:13px">All</div>
<div class="sep" style="left:332px;top:650px;width:1px;height:22px"></div>
<svg width="1285" height="722" style="left:0;top:0"><g class="ic" stroke-width="1.2"><path d="M347 660 V654 A2 2 0 0 1 349 652 H363 A2 2 0 0 1 365 654 V666.5 A2 2 0 0 1 363 668.5 H359 M347 656 H365 M351 650.5 V653.5 M361 650.5 V653.5 M347 664.5 H355 M352.5 662 L355 664.5 L352.5 667"/></g></svg>
<div class="t" style="left:1142px;top:655px;font-size:13px;line-height:13px">13:31:08 UTC</div>

<!-- bottom panel -->
<div class="t" style="left:72px;top:696px;font-size:14px;line-height:14px">Pine Editor</div>
<div class="t" style="left:172px;top:696px;font-size:14px;line-height:14px">Strategy Tester</div>
<div class="t" style="left:299px;top:696px;font-size:14px;line-height:14px">Replay Trading</div>
<div class="t" style="left:422px;top:696px;font-size:14px;line-height:14px">Trading Panel</div>
<svg width="1285" height="722" style="left:0;top:0"><g class="ic" stroke-width="1.2"><path d="M1172.8 706.8 L1181.3 698.5 L1189.8 706.8"/><path d="M1208.8 699 A3 3 0 0 1 1211.8 696 H1222 A3 3 0 0 1 1225 699 M1225 707 A3 3 0 0 1 1222 710 H1211.8 A3 3 0 0 1 1208.8 707"/></g></svg>

<!-- events -->
<svg width="1285" height="722" style="left:0;top:0">
 <defs>
  <clipPath id="cc1"><circle cx="979.3" cy="575" r="8.2"/></clipPath>
  <clipPath id="uc1"><circle cx="966.4" cy="599.6" r="8.2"/></clipPath>
  <clipPath id="uc2"><circle cx="979.3" cy="599.6" r="8.2"/></clipPath>
 </defs>
 <circle cx="966" cy="575" r="8.2" fill="#fff" stroke="#7a3fb8" stroke-width="1.3"/>
 <path d="M968.3 569.8 L963.2 576 H967.2 L963.8 580.4" fill="none" stroke="#a03cd6" stroke-width="1.6" stroke-linejoin="miter"/>
 <g stroke="#e25259" stroke-width="1.5" fill="#fff">
  <circle cx="990" cy="575" r="8.4"/><circle cx="984.6" cy="575" r="8.4"/>
 </g>
 <path d="M992 568.5 A7 7 0 0 1 992 581.5 Z" fill="#ef8a8e"/>
 <circle cx="979.3" cy="575" r="8.4" fill="#fff" stroke="#e25259" stroke-width="1.5"/>
 <g clip-path="url(#cc1)" fill="#e5666b"><rect x="970" y="566" width="4.2" height="18"/><rect x="984.4" y="566" width="4.2" height="18"/></g>
 <path d="M979.3 571.5 L980.6 573.6 L982 573.2 L981.3 576.2 L979.3 577.6 L977.3 576.2 L976.6 573.2 L978 573.6 Z" fill="#e5666b"/>
 <g stroke="#e25259" stroke-width="1.5" fill="#fff">
  <circle cx="990" cy="599.6" r="8.4"/><circle cx="984.7" cy="599.6" r="8.4"/>
 </g>
 <g fill="#ef8a8e"><rect x="989" y="597.5" width="8" height="1.8"/><rect x="989" y="602" width="8" height="1.8"/></g>
 <circle cx="979.3" cy="599.6" r="8.4" fill="#fff" stroke="#e25259" stroke-width="1.5"/>
 <g clip-path="url(#uc2)"><rect x="970" y="590" width="7" height="8" fill="#3f7ad8"/><g fill="#e66a6f"><rect x="977" y="593.2" width="12" height="1.6"/><rect x="970" y="598" width="19" height="1.9"/><rect x="970" y="602.4" width="19" height="1.9"/><rect x="970" y="606.6" width="19" height="1.9"/></g></g>
 <circle cx="966.4" cy="599.6" r="8.4" fill="#fff" stroke="#e25259" stroke-width="1.5"/>
 <g clip-path="url(#uc1)"><rect x="957" y="590" width="9" height="8.2" fill="#3f7ad8"/><g fill="#fff" opacity="0.8"><rect x="959" y="593" width="1" height="1"/><rect x="961.5" y="593" width="1" height="1"/><rect x="964" y="593" width="1" height="1"/><rect x="959" y="595.5" width="1" height="1"/><rect x="961.5" y="595.5" width="1" height="1"/><rect x="964" y="595.5" width="1" height="1"/></g><g fill="#e66a6f"><rect x="966" y="593.2" width="12" height="1.6"/><rect x="957" y="598.2" width="19" height="1.9"/><rect x="957" y="602.6" width="19" height="1.9"/><rect x="957" y="606.8" width="19" height="1.9"/></g></g>
</svg>

<svg width="1285" height="722" style="left:0;top:0"><path d="M1285 713 V722 H1276 A9 9 0 0 0 1285 713 Z" fill="#161616"/></svg>
</body></html>
